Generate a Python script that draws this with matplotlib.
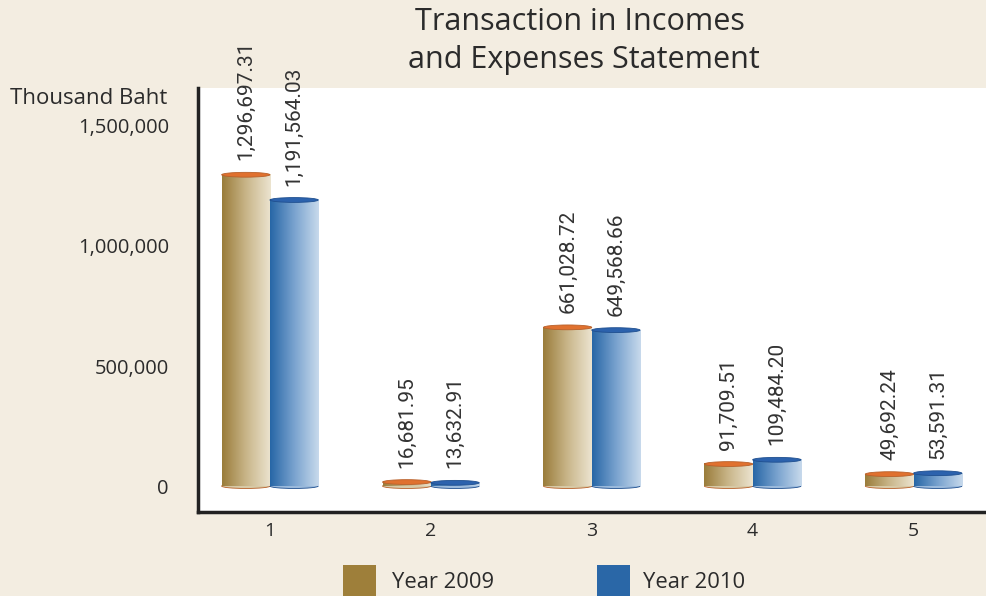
import matplotlib.pyplot as plt
import matplotlib.patches as mpatches
import matplotlib.colors as mcolors
import numpy as np

plt.rcParams['font.family'] = ['Open Sans', 'DejaVu Sans']

# --- Data ---
categories = ['1', '2', '3', '4', '5']
year_2009 = [1296697.31, 16681.95, 661028.72, 91709.51, 49692.24]
year_2010 = [1191564.03, 13632.91, 649568.66, 109484.20, 53591.31]
series_names = ['Year 2009', 'Year 2010']
y_ticks = [0, 500000, 1000000, 1500000]

BG = '#f3ede1'
TXT = '#2b2b2b'

fig = plt.figure(figsize=(9.86, 5.96), dpi=100)
fig.patch.set_facecolor(BG)
ax = fig.add_axes([198 / 986, 1 - 512 / 596, 1 - 198 / 986, (512 - 88) / 596])
ax.set_facecolor('white')

x = np.arange(1, len(categories) + 1)
w = 0.3
ell_h = 20000

grad_2009 = mcolors.LinearSegmentedColormap.from_list('g09', ['#9a7c3a', '#c9b68a', '#ece4d0'])
grad_2010 = mcolors.LinearSegmentedColormap.from_list('g10', ['#2766a6', '#7aa3cf', '#c8daec'])
ramp = np.linspace(0, 1, 256).reshape(1, -1)


def cylinder(xc, h, cmap, top_color, bottom_color):
    x0, x1 = xc - w / 2, xc + w / 2
    ax.imshow(ramp, cmap=cmap, extent=(x0, x1, 0, h), aspect='auto',
              origin='lower', zorder=2, interpolation='bilinear')
    ax.add_patch(mpatches.Ellipse((xc, 0), w, ell_h, facecolor=cmap(0.7),
                                  edgecolor=bottom_color, linewidth=0.6, zorder=1.9))
    ax.add_patch(mpatches.Ellipse((xc, h), w, ell_h, facecolor=top_color,
                                  edgecolor=bottom_color, linewidth=0.6, zorder=3))


for xi, v in zip(x, year_2009):
    cylinder(xi - w / 2, v, grad_2009, '#e0712f', '#b8602a')
for xi, v in zip(x, year_2010):
    cylinder(xi + w / 2, v, grad_2010, '#2c62ad', '#1f4f8f')

# value labels
lab_kw = dict(rotation=90, ha='center', va='bottom', fontsize=15, color='#333333',
              zorder=4, family=['Roboto', 'DejaVu Sans'])
for xi, v in zip(x, year_2009):
    ax.text(xi - w / 2, v + 60000, f'{v:,.2f}', **lab_kw)
for xi, v in zip(x, year_2010):
    ax.text(xi + w / 2, v + 60000, f'{v:,.2f}', **lab_kw)

ax.set_xlim(0.553, 5.45)
ax.set_ylim(-108000, 1658000)
ax.set_xticks(x)
ax.set_xticklabels(categories, fontsize=14, color=TXT)
ax.set_yticks(y_ticks)
ax.set_yticklabels([f'{t:,}' for t in y_ticks], fontsize=14.5, color=TXT)
ax.tick_params(axis='both', length=0)
ax.tick_params(axis='y', pad=21)
ax.tick_params(axis='x', pad=7)

for s in ['top', 'right']:
    ax.spines[s].set_visible(False)
ax.spines['left'].set_linewidth(2.5)
ax.spines['bottom'].set_linewidth(2.5)
ax.spines['left'].set_color('#222222')
ax.spines['bottom'].set_color('#222222')

fig.text(580 / 986, 1 - 22 / 596, 'Transaction in Incomes', ha='center', va='center',
         fontsize=22, color=TXT)
fig.text(584 / 986, 1 - 60 / 596, 'and Expenses Statement', ha='center', va='center',
         fontsize=22, color=TXT)
fig.text(10 / 986, 1 - 98 / 596, 'Thousand Baht', ha='left', va='center',
         fontsize=16, color=TXT)

# legend
fig.patches.append(mpatches.Rectangle((343 / 986, 0), 33 / 986, 31 / 596,
                                      transform=fig.transFigure, facecolor='#9e7f3a',
                                      edgecolor='none'))
fig.patches.append(mpatches.Rectangle((597 / 986, 0), 33 / 986, 31 / 596,
                                      transform=fig.transFigure, facecolor='#2a67a7',
                                      edgecolor='none'))
fig.text(392 / 986, 1 - 582 / 596, series_names[0], ha='left', va='center',
         fontsize=15.8, color=TXT)
fig.text(643 / 986, 1 - 582 / 596, series_names[1], ha='left', va='center',
         fontsize=15.8, color=TXT)

plt.savefig('out.png', dpi=100, facecolor=BG)
plt.close()
